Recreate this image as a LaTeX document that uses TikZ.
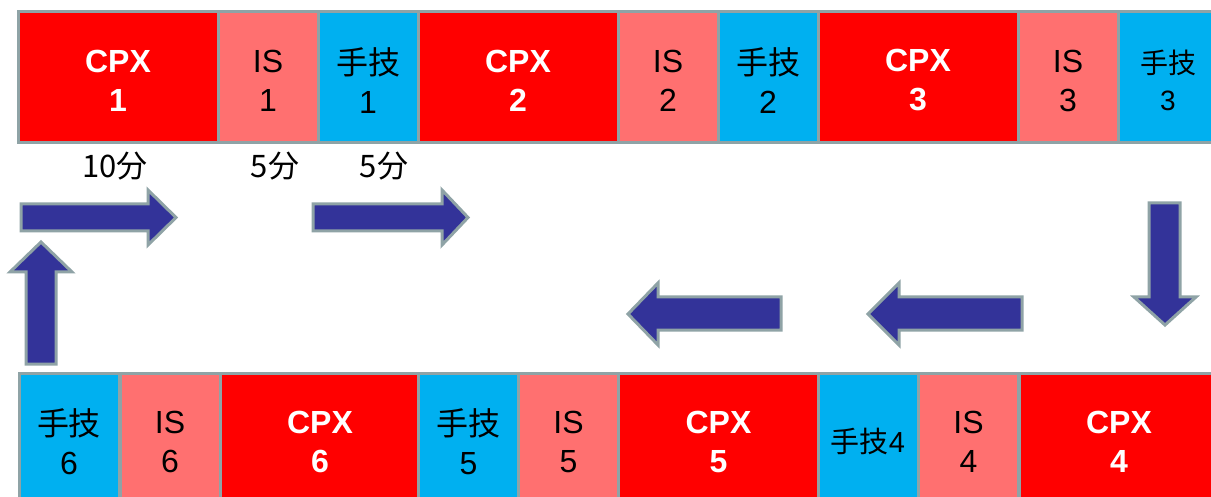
\documentclass[tikz,border=0pt]{standalone}
\usepackage{fontspec}
\setmainfont{Liberation Sans}
\newfontfamily\cjk{Noto Sans CJK JP}
\definecolor{cpxred}{RGB}{255,0,0}
\definecolor{issalmon}{RGB}{255,112,112}
\definecolor{skblue}{RGB}{0,176,240}
\definecolor{bordergray}{RGB}{143,163,166}
\definecolor{arrowblue}{RGB}{51,51,153}
\tikzset{
  cell/.style={draw=bordergray, line width=3pt, rectangle, minimum height=131pt, inner sep=0pt},
  cpxbox/.style={cell, fill=cpxred, minimum width=200pt},
  isbox/.style={cell, fill=issalmon, minimum width=100pt},
  skbox/.style={cell, fill=skblue, minimum width=100pt},
  celltext/.style={inner sep=0pt, align=center, font=\fontsize{32}{39}\selectfont},
  cpxtext/.style={celltext, text=white, font=\fontsize{32}{39}\selectfont\bfseries},
  istext/.style={celltext, text=black},
  sktext/.style={celltext, text=black},
  blockarrow/.style={draw=bordergray, line width=3pt, fill=arrowblue, line join=miter},
  timelabel/.style={font=\cjk\fontsize{31}{33}\selectfont, inner sep=0pt}
}
\newcommand\mycell[5][]{%
  \node[#2box] (#3) at #4 {};
  \node[#2text, #1] (#3t) at ([yshift=-3pt]#3.center) {#5};}
\begin{document}
\begin{tikzpicture}[x=1pt, y=-1pt]
\useasboundingbox (0,0) rectangle (1211,497);
\clip (0,0) rectangle (1211,497);
\fill[white] (0,0) rectangle (1211,497);
% top row (y 12..143)
\mycell{cpx}{c1}{(118,77.5)}{CPX\\1}
\mycell{is}{i1}{(268,77.5)}{IS\\1}
\mycell{sk}{s1}{(368,77.5)}{{\cjk 手技}\\1}
\mycell{cpx}{c2}{(518,77.5)}{CPX\\2}
\mycell{is}{i2}{(668,77.5)}{IS\\2}
\mycell{sk}{s2}{(768,77.5)}{{\cjk 手技}\\2}
\mycell{cpx}{c3}{(918,77.5)}{CPX\\3}
\mycell{is}{i3}{(1068,77.5)}{IS\\3}
\mycell[font=\fontsize{28}{37}\selectfont]{sk}{s3}{(1168,77.5)}{{\cjk 手技}\\3}
% bottom row (y 373..504)
\mycell{sk}{s6}{(69,438.5)}{{\cjk 手技}\\6}
\mycell{is}{i6}{(170,438.5)}{IS\\6}
\mycell{cpx}{c6}{(320,438.5)}{CPX\\6}
\mycell{sk}{s5}{(468.5,438.5)}{{\cjk 手技}\\5}
\mycell{is}{i5}{(568.5,438.5)}{IS\\5}
\mycell{cpx}{c5}{(718.5,438.5)}{CPX\\5}
\mycell[font=\fontsize{29}{30}\selectfont]{sk}{s4}{(868,438.5)}{{\cjk 手技}4}
\mycell{is}{i4}{(968.5,438.5)}{IS\\4}
\mycell{cpx}{c4}{(1119,438.5)}{CPX\\4}
% redraw borders of narrower CPX boxes in bottom row via widths
% time labels
\node[timelabel] (t1) at (115,166) {10分};
\node[timelabel] (t2) at (275,166) {5分};
\node[timelabel] (t3) at (384,166) {5分};
% block arrows
\draw[blockarrow] (21,204) -- (148,204) -- (148,190) -- (176,217.5) -- (148,245) -- (148,231) -- (21,231) -- cycle;
\draw[blockarrow] (313,204) -- (442,204) -- (442,190) -- (468,217.5) -- (442,245) -- (442,231) -- (313,231) -- cycle;
\draw[blockarrow] (26,364) -- (26,272) -- (10,272) -- (41,242) -- (72,272) -- (56,272) -- (56,364) -- cycle;
\draw[blockarrow] (781,297) -- (658,297) -- (658,283) -- (628,314) -- (658,345) -- (658,330) -- (781,330) -- cycle;
\draw[blockarrow] (1022,297) -- (899,297) -- (899,283) -- (868,314) -- (899,345) -- (899,330) -- (1022,330) -- cycle;
\draw[blockarrow] (1149,203) -- (1180,203) -- (1180,297) -- (1196,297) -- (1165,325) -- (1134,297) -- (1149,297) -- cycle;
\end{tikzpicture}
\end{document}
